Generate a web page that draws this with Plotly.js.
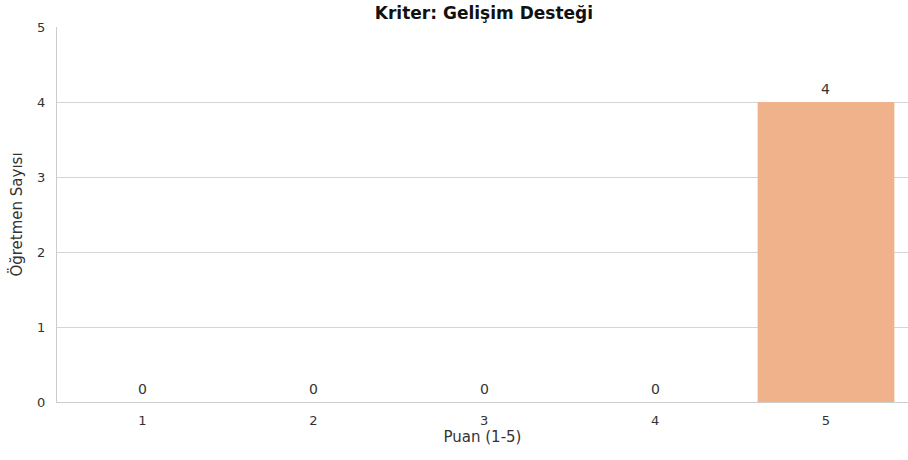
<!DOCTYPE html>
<html>
<head>
<meta charset="utf-8">
<script src="https://cdn.plot.ly/plotly-3.0.1.min.js"></script>
<style>html,body{margin:0;padding:0;background:#fff;}#chart{width:908px;height:460px;}</style>
</head>
<body>
<div id="chart"></div>
<script>
const categories = ["1", "2", "3", "4", "5"];
const counts = [0, 0, 0, 0, 4];
const barColors = ["#a1c9f4", "#8de5a1", "#ff9f9b", "#d0bbff", "#efb28a"];
const chartTitle = "Kriter: Gelişim Desteği";
const xTitle = "Puan (1-5)";
const yTitle = "Öğretmen Sayısı";
const yTicks = [0, 1, 2, 3, 4, 5];

const font = "DejaVu Sans, sans-serif";
const textColor = "#333333";

const trace = {
  type: "bar",
  x: categories,
  y: counts,
  marker: {color: barColors, line: {width: 0}},
  width: 0.8,
  hoverinfo: "none"
};

const annotations = categories.map((c, i) => ({
  x: i, y: counts[i], xref: "x", yref: "y",
  text: String(counts[i]), showarrow: false,
  yanchor: "bottom", yshift: 3,
  font: {family: font, size: 14, color: textColor}
}));

const layout = {
  width: 908, height: 460,
  margin: {l: 57, r: 0, t: 27, b: 58},
  paper_bgcolor: "#ffffff", plot_bgcolor: "#ffffff",
  showlegend: false,
  title: {text: "<b>" + chartTitle + "</b>", x: 0.533, xanchor: "center", y: 0.971, yanchor: "middle",
    font: {family: font, size: 17, color: "#111111"}},
  xaxis: {
    type: "category", range: [-0.5, 4.48],
    showgrid: false, zeroline: false,
    showline: true, linecolor: "#cccccc", linewidth: 1.2,
    ticks: "", ticklabelstandoff: 6,
    tickfont: {family: font, size: 13, color: textColor},
    title: {text: xTitle, standoff: 4, font: {family: font, size: 15, color: textColor}}
  },
  yaxis: {
    range: [0, 5], tickvals: yTicks,
    showgrid: true, gridcolor: "#d5d5d5", gridwidth: 1,
    zeroline: false, showline: true, linecolor: "#cccccc", linewidth: 1.2,
    ticks: "", ticklabelstandoff: 8,
    tickfont: {family: font, size: 13, color: textColor},
    title: {text: yTitle, standoff: 10, font: {family: font, size: 15, color: textColor}}
  },
  annotations: annotations,
  bargap: 0.2
};

Plotly.newPlot("chart", [trace], layout, {displayModeBar: false, staticPlot: true});
</script>
</body>
</html>
